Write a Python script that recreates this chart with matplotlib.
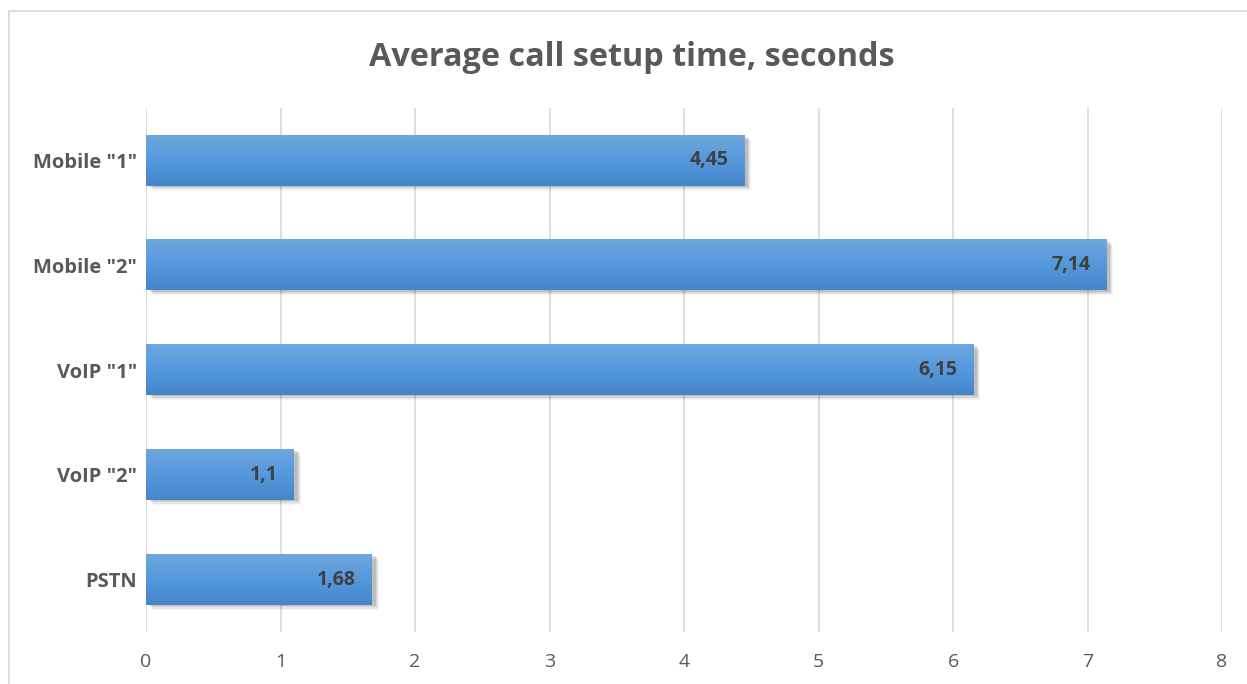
import numpy as np
import matplotlib
matplotlib.use("Agg")
import matplotlib.pyplot as plt
from matplotlib.patches import Rectangle
from matplotlib.lines import Line2D

categories = ['Mobile "1"', 'Mobile "2"', 'VoIP "1"', 'VoIP "2"', 'PSTN']
values = [4.45, 7.14, 6.15, 1.1, 1.68]
x_ticks = [0, 1, 2, 3, 4, 5, 6, 7, 8]
title = "Average call setup time, seconds"

plt.rcParams['font.family'] = ['Open Sans', 'DejaVu Sans']

fig = plt.figure(figsize=(12.47, 6.84), dpi=100)
ax = fig.add_axes([0.1171, 0.076, 0.8629, 0.766])

# chart area frame (left and top edges visible)
fig.add_artist(Line2D([9 / 1247, 9 / 1247], [0, 1 - 11 / 684], color="#d9d9d9", lw=1.2,
                      transform=fig.transFigure))
fig.add_artist(Line2D([9 / 1247, 1], [1 - 11 / 684, 1 - 11 / 684], color="#d9d9d9", lw=1.2,
                      transform=fig.transFigure))

n = len(categories)
ypos = np.arange(n)[::-1]
bar_h = 0.48

ax.set_xlim(0, 8)
ax.set_ylim(-0.5, n - 0.5)

# vertical gradient, light at the top of each bar
grad = np.linspace(0, 1, 64).reshape(-1, 1)
cmap = matplotlib.colors.LinearSegmentedColormap.from_list(
    "bar", ["#6fa7dd", "#5598dc", "#4586c9"])

label_shift = matplotlib.transforms.ScaledTranslation(-16 / 100, 0, fig.dpi_scale_trans)

for y, v in zip(ypos, values):
    # soft drop shadow
    for k, a in enumerate([0.10, 0.08, 0.06, 0.04]):
        off = 0.012 + k * 0.012
        ax.add_patch(Rectangle((0.02 + off * 0.6, y - bar_h / 2 - off), v, bar_h,
                               facecolor="#000000", alpha=a, edgecolor="none", zorder=2))
    ax.imshow(grad, cmap=cmap, aspect="auto", zorder=3,
              extent=(0, v, y - bar_h / 2, y + bar_h / 2), interpolation="bilinear")
    ax.text(v, y, f"{v:g}".replace(".", ","), ha="right", va="center",
            fontsize=14, fontweight="bold", color="#404040", zorder=4,
            transform=ax.transData + label_shift)

ax.set_xlim(0, 8)
ax.set_ylim(-0.5, n - 0.5)
ax.set_xticks(x_ticks)
ax.set_xticklabels([str(t) for t in x_ticks], fontsize=14, color="#595959")
ax.set_yticks(ypos)
ax.set_yticklabels(categories, fontsize=14.5, fontweight="bold", color="#595959")
ax.tick_params(axis="both", length=0)
ax.tick_params(axis="x", pad=15)
ax.tick_params(axis="y", pad=6.5)
ax.grid(axis="x", color="#d9d9d9", lw=1.2, zorder=0)
ax.set_axisbelow(True)
for s in ax.spines.values():
    s.set_visible(False)

fig.text(0.507, 1 - 57 / 684, title, ha="center", va="center", fontsize=23.3,
         fontweight="bold", color="#595959")

fig.savefig("out.png", dpi=100)
